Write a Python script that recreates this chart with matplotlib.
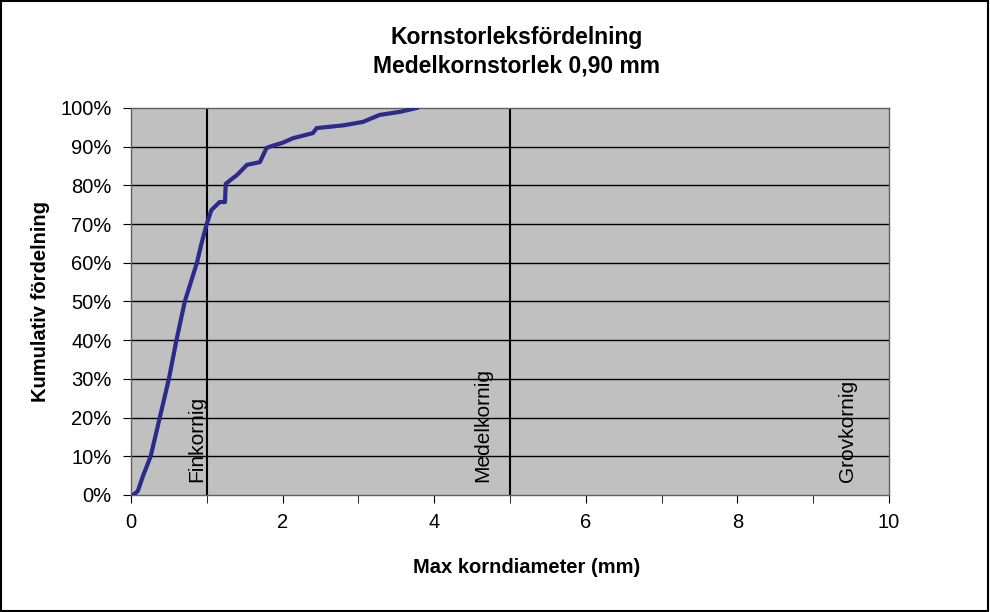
import matplotlib.pyplot as plt
from matplotlib.patches import Rectangle
from matplotlib.ticker import PercentFormatter, MultipleLocator

plt.rcParams['font.family'] = ['Liberation Sans', 'DejaVu Sans']

# avläsning av kurvan (mm, %)
diameter = [0.03, 0.09, 0.16, 0.26, 0.32, 0.38, 0.44, 0.50, 0.60, 0.71, 0.79,
            0.87, 0.93, 1.00, 1.06, 1.17, 1.24, 1.25, 1.32, 1.40, 1.53, 1.70,
            1.79, 1.88, 2.00, 2.14, 2.40, 2.45, 2.80, 3.06, 3.28, 3.55, 3.77]
kumulativ = [0, 1, 5, 10, 15, 20, 25, 30, 40, 50, 55,
             60, 65, 70, 73.6, 75.7, 75.7, 80.4, 81.5, 82.7, 85.3, 86,
             89.7, 90.3, 91, 92.2, 93.5, 94.8, 95.5, 96.4, 98.2, 99, 100]

gransvarden = [1, 5]
klasser = ['Finkornig', 'Medelkornig', 'Grovkornig']
klass_x = [0.87, 4.64, 9.45]

fig = plt.figure(figsize=(9.9, 6.12), dpi=100)
ax = fig.add_axes([0.1323, 0.1912, 0.7657, 0.6324])
ax.set_facecolor('#c0c0c0')

for y in range(10, 100, 10):
    ax.axhline(y, color='black', lw=1, zorder=1)
for g in gransvarden:
    ax.axvline(g, color='black', lw=1.5, zorder=2)

ax.plot(diameter, kumulativ, color='#2b2b8a', lw=3, zorder=3)

for namn, xx in zip(klasser, klass_x):
    ax.text(xx, 3.3, namn, rotation=90, ha='center', va='bottom', fontsize=15, zorder=4)

ax.set_xlim(0, 10)
ax.set_ylim(0, 100)
ax.xaxis.set_major_locator(MultipleLocator(2))
ax.xaxis.set_minor_locator(MultipleLocator(1))
ax.yaxis.set_major_locator(MultipleLocator(10))
ax.yaxis.set_major_formatter(PercentFormatter(decimals=0))
ax.tick_params(axis='both', direction='out', labelsize=14.5, length=6, color='black')
ax.tick_params(axis='y', pad=8)
ax.tick_params(axis='x', pad=7)
ax.tick_params(axis='x', which='minor', direction='out', length=6)
for s in ax.spines.values():
    s.set_linewidth(1)
    s.set_color('#606060')

fig.text(0.532, 0.072, 'Max korndiameter (mm)', ha='center', va='center',
         fontsize=14.5, fontweight='bold')
fig.text(0.041, 0.508, 'Kumulativ fördelning', ha='center', va='center',
         rotation=90, fontsize=14.5, fontweight='bold')

fig.text(0.522, 0.938, 'Kornstorleksfördelning', ha='center', va='center',
         fontsize=16.5, fontweight='bold')
fig.text(0.522, 0.892, 'Medelkornstorlek 0,90 mm', ha='center', va='center',
         fontsize=16.5, fontweight='bold')

fig.patches.append(Rectangle((0.001, 0.002), 0.997, 0.996, transform=fig.transFigure,
                             fill=False, edgecolor='black', lw=1.5))

fig.savefig('out.png', dpi=100)
